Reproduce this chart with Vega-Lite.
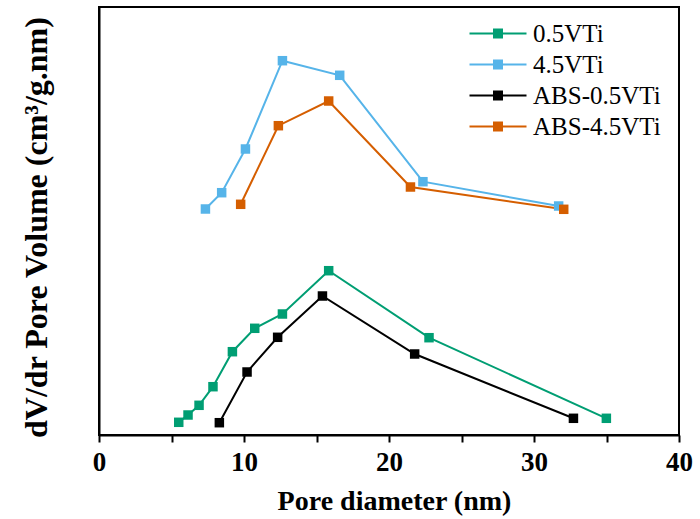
{
  "$schema": "https://vega.github.io/schema/vega-lite/v6.json",
  "autosize": {"type": "none"},
  "padding": {"left": 99, "top": 7, "right": 21, "bottom": 84},
  "width": 580,
  "height": 428,
  "background": "white",
  "config": {
    "view": {"stroke": "black", "strokeWidth": 2},
    "font": "Liberation Serif"
  },
  "data": {
    "values": [
      {"series": "0.5VTi", "d": 5.50, "v": 1.27},
      {"series": "0.5VTi", "d": 6.14, "v": 2.0},
      {"series": "0.5VTi", "d": 6.90, "v": 2.97},
      {"series": "0.5VTi", "d": 7.86, "v": 4.83},
      {"series": "0.5VTi", "d": 9.20, "v": 8.33},
      {"series": "0.5VTi", "d": 10.74, "v": 10.67},
      {"series": "0.5VTi", "d": 12.65, "v": 12.1},
      {"series": "0.5VTi", "d": 15.84, "v": 16.43},
      {"series": "0.5VTi", "d": 22.76, "v": 9.73},
      {"series": "0.5VTi", "d": 34.99, "v": 1.67},
      {"series": "4.5VTi", "d": 7.34, "v": 22.6},
      {"series": "4.5VTi", "d": 8.46, "v": 24.23},
      {"series": "4.5VTi", "d": 10.10, "v": 28.6},
      {"series": "4.5VTi", "d": 12.65, "v": 37.43},
      {"series": "4.5VTi", "d": 16.60, "v": 35.97},
      {"series": "4.5VTi", "d": 22.34, "v": 25.33},
      {"series": "4.5VTi", "d": 31.70, "v": 22.9},
      {"series": "ABS-0.5VTi", "d": 8.30, "v": 1.23},
      {"series": "ABS-0.5VTi", "d": 10.21, "v": 6.3},
      {"series": "ABS-0.5VTi", "d": 12.32, "v": 9.77},
      {"series": "ABS-0.5VTi", "d": 15.41, "v": 13.9},
      {"series": "ABS-0.5VTi", "d": 21.77, "v": 8.1},
      {"series": "ABS-0.5VTi", "d": 32.72, "v": 1.67},
      {"series": "ABS-4.5VTi", "d": 9.77, "v": 23.07},
      {"series": "ABS-4.5VTi", "d": 12.37, "v": 30.93},
      {"series": "ABS-4.5VTi", "d": 15.84, "v": 33.4},
      {"series": "ABS-4.5VTi", "d": 21.48, "v": 24.8},
      {"series": "ABS-4.5VTi", "d": 32.05, "v": 22.57}
    ]
  },
  "encoding": {
    "x": {
      "field": "d", "type": "quantitative",
      "scale": {"domain": [0, 40], "nice": false, "zero": false},
      "axis": {
        "title": "Pore diameter (nm)",
        "titleFont": "Liberation Serif", "titleFontSize": 28, "titleFontWeight": "bold", "titleColor": "black",
        "titleX": 295, "titleAlign": "center", "titlePadding": 12,
        "values": [0, 5, 10, 15, 20, 25, 30, 35, 40],
        "labelExpr": "datum.value % 10 === 0 ? datum.label : ''",
        "labelFont": "Liberation Serif", "labelFontSize": 27, "labelFontWeight": "bold", "labelColor": "black",
        "labelPadding": 7, "labelFlush": false, "labelOverlap": false,
        "tickColor": "black", "tickWidth": 2, "tickSize": 7,
        "domainColor": "black", "domainWidth": 2, "grid": false
      }
    },
    "y": {
      "field": "v", "type": "quantitative",
      "scale": {"domain": [0, 42.8], "nice": false, "zero": false},
      "axis": {
        "title": "dV/dr Pore Volume (cm³/g.nm)",
        "titleFont": "Liberation Serif", "titleFontSize": 32, "titleFontWeight": "bold", "titleColor": "black",
        "titlePadding": 46, "titleY": 220,
        "labels": false, "ticks": false, "grid": false,
        "domainColor": "black", "domainWidth": 2
      }
    },
    "color": {
      "field": "series", "type": "nominal",
      "scale": {
        "domain": ["0.5VTi", "4.5VTi", "ABS-0.5VTi", "ABS-4.5VTi"],
        "range": ["#009E73", "#56B4E9", "#000000", "#D55E00"]
      }
    }
  },
  "layer": [
    {
      "mark": {"type": "line", "strokeWidth": 2},
      "encoding": {
        "color": {
          "field": "series", "type": "nominal",
          "legend": {
            "title": null,
            "orient": "none",
            "legendX": 386.5,
            "legendY": 14,
            "padding": 0,
            "rowPadding": 5,
            "symbolType": "M-3,0H3M-0.42,-0.42H0.42V0.42H-0.42Z",
            "symbolSize": 361,
            "symbolStrokeWidth": 2,
            "labelOffset": 22.5,
            "labelFont": "Liberation Serif",
            "labelFontSize": 25,
            "labelColor": "black",
            "labelLimit": 300,
            "encode": {
              "symbols": {
                "update": {
                  "fill": {"scale": "color", "field": "value"},
                  "stroke": {"scale": "color", "field": "value"},
                  "opacity": {"value": 1}
                }
              }
            }
          }
        }
      }
    },
    {
      "mark": {"type": "point", "shape": "square", "filled": true, "size": 90, "opacity": 1},
      "encoding": {
        "color": {"field": "series", "type": "nominal", "legend": null}
      }
    }
  ]
}
